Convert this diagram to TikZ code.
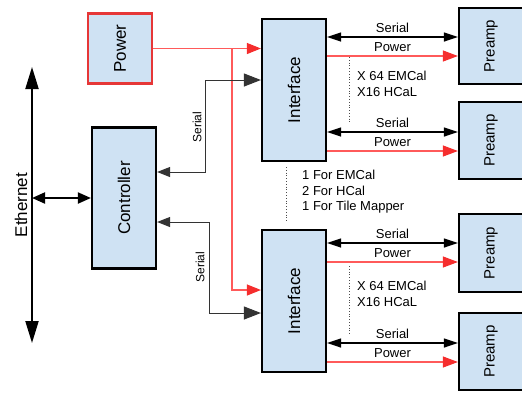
\documentclass[tikz,border=0pt]{standalone}
\usepackage{fontspec}
\setmainfont{Liberation Sans}
\usetikzlibrary{arrows.meta,calc}
\definecolor{boxfill}{RGB}{207,226,243}
\definecolor{pwrline}{RGB}{255,90,90}
\definecolor{pwrhead}{RGB}{245,45,45}
\definecolor{pwrbox}{RGB}{230,55,55}
\tikzset{
  box/.style={draw=black, line width=2.2pt, fill=boxfill, inner sep=0pt, minimum width=64pt},
  bigtext/.style={font=\fontsize{17}{17}\selectfont},
  pretext/.style={font=\fontsize{15}{15}\selectfont},
  lbl/.style={font=\fontsize{13}{13}\selectfont, inner sep=0pt},
  smlbl/.style={font=\fontsize{12}{12}\selectfont, inner sep=0pt},
  serialR/.style={line width=1.4pt, {Triangle[length=14pt,width=9pt]}-{Triangle[length=14pt,width=9pt]}},
  powerR/.style={pwrline, line width=1.1pt, -{Triangle[length=15pt,width=11pt,color=pwrhead]}},
  serialL/.style={draw=black!80, line width=1pt},
  dotline/.style={dotted, line width=0.8pt, black!70},
}
\begin{document}
\begin{tikzpicture}[x=1pt,y=-1pt]
\useasboundingbox (0,0) rectangle (522,392);
% boxes
\node[box, draw=pwrbox, line width=2.5pt, minimum height=70pt, bigtext] (power) at (120,48.5) {\rotatebox{90}{Power}};
\node[box, minimum height=141pt, bigtext] (ctrl) at (124,198) {\rotatebox{90}{Controller}};
\node[box, minimum height=142pt, bigtext] (if1) at (294,90) {\rotatebox{90}{Interface}};
\node[box, minimum height=142pt, bigtext] (if2) at (294,301) {\rotatebox{90}{Interface}};
\node[box, minimum height=76pt, pretext] (pa1) at (491,46) {\rotatebox{90}{Preamp}};
\node[box, minimum height=77pt, pretext] (pa2) at (491,140.5) {\rotatebox{90}{Preamp}};
\node[box, minimum height=78pt, pretext] (pa3) at (491,253) {\rotatebox{90}{Preamp}};
\node[box, minimum height=77pt, pretext] (pa4) at (491,351.5) {\rotatebox{90}{Preamp}};
% ethernet
\coordinate (etop) at (32,67);
\coordinate (ebot) at (32,343);
\coordinate (ej) at (32,198);
\draw[line width=2pt, {Triangle[length=22pt,width=13pt]}-{Triangle[length=22pt,width=13pt]}] (etop) -- (ebot);
\node[bigtext, inner sep=0pt] (eth) at (21,205) {\rotatebox{90}{Ethernet}};
\draw[line width=2pt, {Triangle[length=13pt,width=11pt]}-{Triangle[length=13pt,width=11pt]}] (ej) -- (ctrl.west);
% power to interfaces
\coordinate (pj) at (232,48.5);
\draw[powerR, -{Triangle[length=14pt,width=11pt,color=pwrhead]}] (power.east) -- (power.east -| if1.west);
\draw[powerR, -{Triangle[length=14pt,width=11pt,color=pwrhead]}] (pj) |- ([yshift=11pt]if2.west);
% serial controller to interfaces
\draw[serialL, {Triangle[length=13pt,width=10pt]}-{Triangle[length=17pt,width=13pt]}] ([yshift=26pt]ctrl.east) -- ++(48,0) |- ([yshift=10pt]if1.west);
\node[smlbl] (s1) at (197,127) {\rotatebox{90}{Serial}};
\draw[serialL, {Triangle[length=13pt,width=10pt]}-{Triangle[length=17pt,width=13pt]}] ([yshift=-24pt]ctrl.east) -- ++(52,0) |- ([yshift=-12pt]if2.west);
\node[smlbl] (s2) at (200,267) {\rotatebox{90}{Serial}};
% interface 1 to preamps
\draw[serialR] ([yshift=53pt]if1.east) -- ([yshift=53pt]if1.east -| pa1.west) node[midway, above=4pt, lbl] {Serial};
\draw[powerR] ([yshift=34pt]if1.east) -- ([yshift=34pt]if1.east -| pa1.west) node[midway, above=4pt, lbl, black] {Power};
\draw[serialR] ([yshift=-42pt]if1.east) -- ([yshift=-42pt]if1.east -| pa2.west) node[midway, above=4pt, lbl] {Serial};
\draw[powerR] ([yshift=-61pt]if1.east) -- ([yshift=-61pt]if1.east -| pa2.west) node[midway, above=4pt, lbl, black] {Power};
% interface 2 to preamps
\draw[serialR] ([yshift=58pt]if2.east) -- ([yshift=58pt]if2.east -| pa3.west) node[midway, above=4pt, lbl] {Serial};
\draw[powerR] ([yshift=39pt]if2.east) -- ([yshift=39pt]if2.east -| pa3.west) node[midway, above=4pt, lbl, black] {Power};
\draw[serialR] ([yshift=-42pt]if2.east) -- ([yshift=-42pt]if2.east -| pa4.west) node[midway, above=4pt, lbl] {Serial};
\draw[powerR] ([yshift=-61pt]if2.east) -- ([yshift=-61pt]if2.east -| pa4.west) node[midway, above=4pt, lbl, black] {Power};
% dotted multiplicity marks
\coordinate (d1a) at (349,57);
\coordinate (d1b) at (349,124);
\draw[dotline] (d1a) -- (d1b);
\node[lbl, anchor=west] (m1a) at (357,76) {X 64 EMCal};
\node[lbl, anchor=west] (m1b) at (357,92) {X16 HCaL};
\coordinate (d2a) at (349,266);
\coordinate (d2b) at (349,335);
\draw[dotline] (d2a) -- (d2b);
\node[lbl, anchor=west] (m2a) at (357,286) {X 64 EMCal};
\node[lbl, anchor=west] (m2b) at (357,302) {X16 HCaL};
\coordinate (d3a) at (286,167);
\coordinate (d3b) at (286,222);
\draw[dotline] (d3a) -- (d3b);
\node[lbl, anchor=west] (c1) at (302,175) {1 For EMCal};
\node[lbl, anchor=west] (c2) at (302,191) {2 For HCal};
\node[lbl, anchor=west] (c3) at (302,207) {1 For Tile Mapper};
\end{tikzpicture}
\end{document}
